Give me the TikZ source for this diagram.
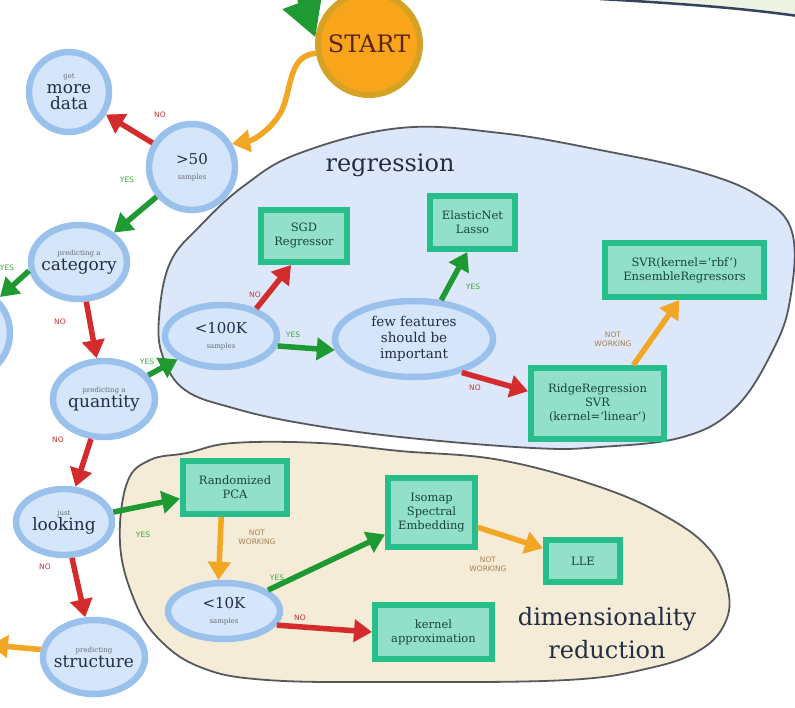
\documentclass[tikz,border=0pt]{standalone}
\usepackage{fontspec}
\setmainfont{DejaVu Serif}
\setsansfont{DejaVu Sans}
\usetikzlibrary{shapes.geometric,arrows.meta}

\definecolor{askring}{HTML}{9AC1EC}
\definecolor{askfill}{HTML}{D5E6FA}
\definecolor{asktext}{HTML}{242D44}
\definecolor{methodring}{HTML}{27BE8C}
\definecolor{methodfill}{HTML}{92DFCA}
\definecolor{methodtext}{HTML}{18453A}
\definecolor{startfill}{HTML}{F8A51B}
\definecolor{startring}{HTML}{D6A226}
\definecolor{starttext}{HTML}{5A2410}
\definecolor{regfill}{HTML}{DCE8FA}
\definecolor{dimfill}{HTML}{F5ECD8}
\definecolor{groupline}{HTML}{56595C}
\definecolor{topfill}{HTML}{EEF2E2}
\definecolor{topline}{HTML}{34425E}
\definecolor{yesgreen}{HTML}{1F9A33}
\definecolor{nored}{HTML}{D42C2C}
\definecolor{failorange}{HTML}{F2A623}
\definecolor{yeslbl}{HTML}{3AA53A}
\definecolor{nolbl}{HTML}{CC3434}
\definecolor{faillbl}{HTML}{A67E50}

\newcommand{\askhint}[1]{{\fontsize{7}{8}\selectfont\color{asktext!70}#1}}

\tikzset{
  ask/.style={ellipse, draw=askring, line width=6.5pt, fill=askfill, text=asktext,
    inner sep=-10pt, align=center, font=\fontsize{17}{19}\selectfont},
  method/.style={rectangle, draw=methodring, line width=6pt, fill=methodfill,
    text=methodtext, inner sep=0pt, align=center, font=\fontsize{11.5}{14}\selectfont},
  group/.style={draw=groupline, line width=1.8pt},
  arr/.style={line width=5.5pt, -{Triangle[length=18pt,width=22pt]}},
  yesarr/.style={arr, draw=yesgreen},
  noarr/.style={arr, draw=nored},
  failarr/.style={arr, draw=failorange},
  lbl/.style={inner sep=0pt, align=center, font=\sffamily\fontsize{7.5}{9}\selectfont},
  yeslbl/.style={lbl, text=yeslbl},
  nolbl/.style={lbl, text=nolbl},
  faillbl/.style={lbl, text=faillbl},
}

\begin{document}
\begin{tikzpicture}[x=1pt,y=-1pt]
    \useasboundingbox (0,0) rectangle (795,707);
    \clip (0,0) rectangle (795,707);
    \fill[white] (0,0) rectangle (795,707);

    % groups behind the estimators
    \fill[topfill] (600,-10) -- (600,-1) .. controls (690,4) and (750,9) .. (805,17) -- (805,-10) -- cycle;
    \draw[draw=topline, line width=2.5pt] (600,-1) .. controls (690,4) and (750,9) .. (805,17);
    \draw[group, fill=regfill] plot[smooth cycle, tension=0.65] coordinates {
      (159,318) (170,263) (200,226) (245,185) (300,153) (400,128) (500,133)
      (600,150) (700,172) (760,197) (792,232) (790,300) (772,352) (735,408)
      (683,437) (600,447) (533,448) (400,437) (300,423) (233,408) (185,390) (163,357)};
    \draw[group, fill=dimfill] plot[smooth cycle, tension=0.65] coordinates {
      (127,483) (150,460) (187,453) (233,443) (320,443) (400,451) (500,460)
      (600,487) (667,517) (710,550) (728,590) (725,623) (700,650) (650,668)
      (567,680) (400,682) (267,680) (200,667) (157,637) (133,597) (120,543)};
    \node[text=asktext, font=\fontsize{24}{26}\selectfont] (regtitle) at (390,165) {regression};
    \node[text=asktext, align=center, font=\fontsize{24}{33}\selectfont] (dimtitle) at (607,633) {dimensionality\\reduction};

    % questions
    \node[circle, draw=startring, line width=6pt, fill=startfill, text=starttext,
      minimum size=102pt, inner sep=0pt, font=\fontsize{24}{26}\selectfont] (start) at (369,44) {START};
    \node[ask, minimum width=80pt, minimum height=80pt] (moredata) at (69,92) {\askhint{get}\\[-4pt]more\\[-3pt]data};
    \node[ask, minimum width=86pt, minimum height=86pt] (gt50) at (192,167) {{\fontsize{15}{17}\selectfont >50}\\[-4pt]\askhint{samples}};
    \node[ask, minimum width=96pt, minimum height=74pt] (category) at (79,262) {\askhint{predicting a}\\[-4pt]category};
    \node[ask, minimum width=90pt, minimum height=90pt] (unseen) at (-35,333) {};
    \node[ask, minimum width=102pt, minimum height=76pt] (quantity) at (104,399) {\askhint{predicting a}\\[-4pt]quantity};
    \node[ask, minimum width=96pt, minimum height=66pt] (looking) at (64,522) {\askhint{just}\\[-4pt]looking};
    \node[ask, minimum width=102pt, minimum height=74pt] (structure) at (94,657) {\askhint{predicting}\\[-4pt]structure};
    \node[ask, minimum width=112pt, minimum height=62pt] (lt100k) at (221,336) {{\fontsize{15}{17}\selectfont <100K}\\[-4pt]\askhint{samples}};
    \node[ask, minimum width=158pt, minimum height=76pt, font=\fontsize{13.5}{16}\selectfont] (features) at (414,339) {few features\\should be\\important};
    \node[ask, minimum width=112pt, minimum height=56pt] (lt10k) at (224,611) {{\fontsize{15}{17}\selectfont <10K}\\[-4pt]\askhint{samples}};

    % estimators
    \node[method, minimum width=86pt, minimum height=52pt] (sgd) at (304,236) {SGD\\Regressor};
    \node[method, minimum width=85pt, minimum height=53pt] (elastic) at (472.5,222.5) {ElasticNet\\Lasso};
    \node[method, minimum width=159pt, minimum height=54pt] (svrrbf) at (684.5,270) {SVR(kernel=`rbf')\\EnsembleRegressors};
    \node[method, minimum width=133pt, minimum height=71pt] (ridge) at (597.5,403.5) {RidgeRegression\\SVR\\(kernel=`linear')};
    \node[method, minimum width=104pt, minimum height=53pt] (rpca) at (235,487.5) {Randomized\\PCA};
    \node[method, minimum width=87pt, minimum height=69pt] (isomap) at (431.5,512.5) {Isomap\\Spectral\\Embedding};
    \node[method, minimum width=74pt, minimum height=42pt] (lle) at (583,561) {LLE};
    \node[method, minimum width=117pt, minimum height=54pt] (kernel) at (433.5,632) {kernel\\approximation};

    % loose ends
    \coordinate (entry) at (286,-42);
    \coordinate (toclass) at (0,297);
    \coordinate (toclust) at (-10,645);

    % edges
    \draw[draw=yesgreen, line width=8pt, -{Triangle[length=38pt,width=40pt]}] (entry) -- (start.173);
    \draw[failarr] (start.190) .. controls (288,55) and (292,90) .. (281,112)
      .. controls (272,128) and (255,140) .. (gt50.30);
    \draw[noarr] (gt50) -- (moredata);
    \draw[yesarr] (gt50) -- (category);
    \draw[yesarr] (category.190) -- (toclass);
    \draw[noarr] (category) -- (quantity);
    \draw[yesarr] (quantity) -- (lt100k);
    \draw[noarr] (quantity) -- (looking);
    \draw[yesarr] (looking) -- (rpca);
    \draw[noarr] (looking) -- (structure);
    \draw[failarr] (structure.172) -- (toclust);
    \draw[noarr] (lt100k.38) -- (sgd.-114);
    \draw[yesarr] (lt100k.-10) -- (features.188);
    \draw[yesarr] (features.55) -- (elastic.-100);
    \draw[noarr] (features.-35) -- (ridge.170);
    \draw[failarr] (ridge.47) -- (svrrbf.-100);
    \draw[failarr] (rpca.-115) -- (lt10k.100);
    \draw[yesarr] (lt10k) -- (isomap);
    \draw[noarr] (lt10k.-15) -- (kernel.west);
    \draw[failarr] (isomap) -- (lle);

    % answers on the edges
    \node[nolbl] (n1) at (160,115) {NO};
    \node[yeslbl] (y1) at (127,180) {YES};
    \node[yeslbl] (y2) at (7,268) {YES};
    \node[nolbl] (n2) at (60,322) {NO};
    \node[yeslbl] (y3) at (147,362) {YES};
    \node[nolbl] (n3) at (58,440) {NO};
    \node[yeslbl] (y4) at (143,535) {YES};
    \node[nolbl] (n4) at (45,567) {NO};
    \node[nolbl] (n5) at (255,295) {NO};
    \node[yeslbl] (y5) at (293,335) {YES};
    \node[yeslbl] (y6) at (473,287) {YES};
    \node[nolbl] (n6) at (475,388) {NO};
    \node[faillbl] (f1) at (613,339) {NOT\\WORKING};
    \node[faillbl] (f2) at (257,537) {NOT\\WORKING};
    \node[yeslbl] (y7) at (277,578) {YES};
    \node[nolbl] (n7) at (300,618) {NO};
    \node[faillbl] (f3) at (488,564) {NOT\\WORKING};
\end{tikzpicture}
\end{document}
